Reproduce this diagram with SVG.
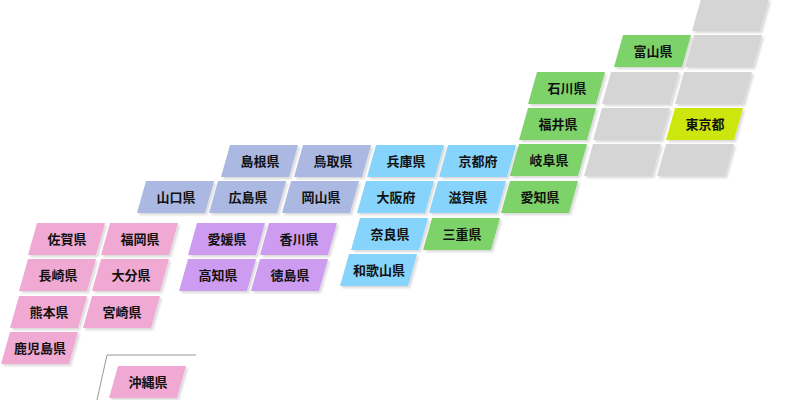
<svg xmlns="http://www.w3.org/2000/svg" width="800" height="400" viewBox="0 0 800 400">
<style>
text{font-family:"Noto Sans CJK JP",sans-serif;font-size:13px;font-weight:bold;fill:#111;text-anchor:middle}
use{filter:url(#sh)}
.g{fill:#7dd36a}.n{fill:#d5d5d5}.y{fill:#cde60c}.b{fill:#86d3fb}.c{fill:#aab8e2}.p{fill:#cd9bef}.k{fill:#f0a9d3}
</style>
<defs>
<filter id="sh" x="-10%" y="-10%" width="130%" height="140%"><feDropShadow dx="2" dy="2" stdDeviation="1" flood-color="#000" flood-opacity="0.15"/></filter>
<polygon id="t" points="0,0 68,0 59,32 -9,32"/>
</defs>
<g id="connectors"><polyline points="196,355 107,355 97,400" fill="none" stroke="#999" stroke-width="1"/></g>
<g id="n1"><use href="#t" x="701" y="-1" class="n"/></g>
<g id="toyama"><use href="#t" x="623" y="35" class="g"/><text x="653" y="56">富山県</text></g>
<g id="n2"><use href="#t" x="694" y="35" class="n"/></g>
<g id="ishikawa"><use href="#t" x="537" y="72" class="g"/><text x="567" y="93">石川県</text></g>
<g id="n3"><use href="#t" x="611" y="72" class="n"/></g>
<g id="n4"><use href="#t" x="684" y="72" class="n"/></g>
<g id="fukui"><use href="#t" x="528" y="108" class="g"/><text x="558" y="129">福井県</text></g>
<g id="n5"><use href="#t" x="602" y="108" class="n"/></g>
<g id="tokyo"><use href="#t" x="675" y="108" class="y"/><text x="705" y="129">東京都</text></g>
<g id="gifu"><use href="#t" x="519" y="144" class="g"/><text x="549" y="165">岐阜県</text></g>
<g id="n6"><use href="#t" x="593" y="144" class="n"/></g>
<g id="n7"><use href="#t" x="666" y="144" class="n"/></g>
<g id="aichi"><use href="#t" x="510" y="181" class="g"/><text x="540" y="202">愛知県</text></g>
<g id="shimane"><use href="#t" x="230" y="145" class="c"/><text x="260" y="166">島根県</text></g>
<g id="tottori"><use href="#t" x="303" y="145" class="c"/><text x="333" y="166">鳥取県</text></g>
<g id="hyogo"><use href="#t" x="376" y="145" class="b"/><text x="406" y="166">兵庫県</text></g>
<g id="kyoto"><use href="#t" x="448" y="145" class="b"/><text x="478" y="166">京都府</text></g>
<g id="yamaguchi"><use href="#t" x="146" y="181" class="c"/><text x="176" y="202">山口県</text></g>
<g id="hiroshima"><use href="#t" x="218" y="181" class="c"/><text x="248" y="202">広島県</text></g>
<g id="okayama"><use href="#t" x="291" y="181" class="c"/><text x="321" y="202">岡山県</text></g>
<g id="osaka"><use href="#t" x="366" y="181" class="b"/><text x="396" y="202">大阪府</text></g>
<g id="shiga"><use href="#t" x="438" y="181" class="b"/><text x="468" y="202">滋賀県</text></g>
<g id="nara"><use href="#t" x="360" y="218" class="b"/><text x="390" y="239">奈良県</text></g>
<g id="mie"><use href="#t" x="432" y="218" class="g"/><text x="462" y="239">三重県</text></g>
<g id="wakayama"><use href="#t" x="349" y="254" class="b"/><text x="379" y="275">和歌山県</text></g>
<g id="ehime"><use href="#t" x="197" y="223" class="p"/><text x="227" y="244">愛媛県</text></g>
<g id="kagawa"><use href="#t" x="269" y="223" class="p"/><text x="299" y="244">香川県</text></g>
<g id="kochi"><use href="#t" x="188" y="259" class="p"/><text x="218" y="280">高知県</text></g>
<g id="tokushima"><use href="#t" x="260" y="259" class="p"/><text x="290" y="280">徳島県</text></g>
<g id="saga"><use href="#t" x="37" y="223" class="k"/><text x="67" y="244">佐賀県</text></g>
<g id="fukuoka"><use href="#t" x="110" y="223" class="k"/><text x="140" y="244">福岡県</text></g>
<g id="nagasaki"><use href="#t" x="28" y="259" class="k"/><text x="58" y="280">長崎県</text></g>
<g id="oita"><use href="#t" x="101" y="259" class="k"/><text x="131" y="280">大分県</text></g>
<g id="kumamoto"><use href="#t" x="19" y="296" class="k"/><text x="49" y="317">熊本県</text></g>
<g id="miyazaki"><use href="#t" x="92" y="296" class="k"/><text x="122" y="317">宮崎県</text></g>
<g id="kagoshima"><use href="#t" x="10" y="332" class="k"/><text x="40" y="353">鹿児島県</text></g>
<g id="okinawa"><use href="#t" x="118" y="366" class="k"/><text x="148" y="387">沖縄県</text></g>
</svg>
